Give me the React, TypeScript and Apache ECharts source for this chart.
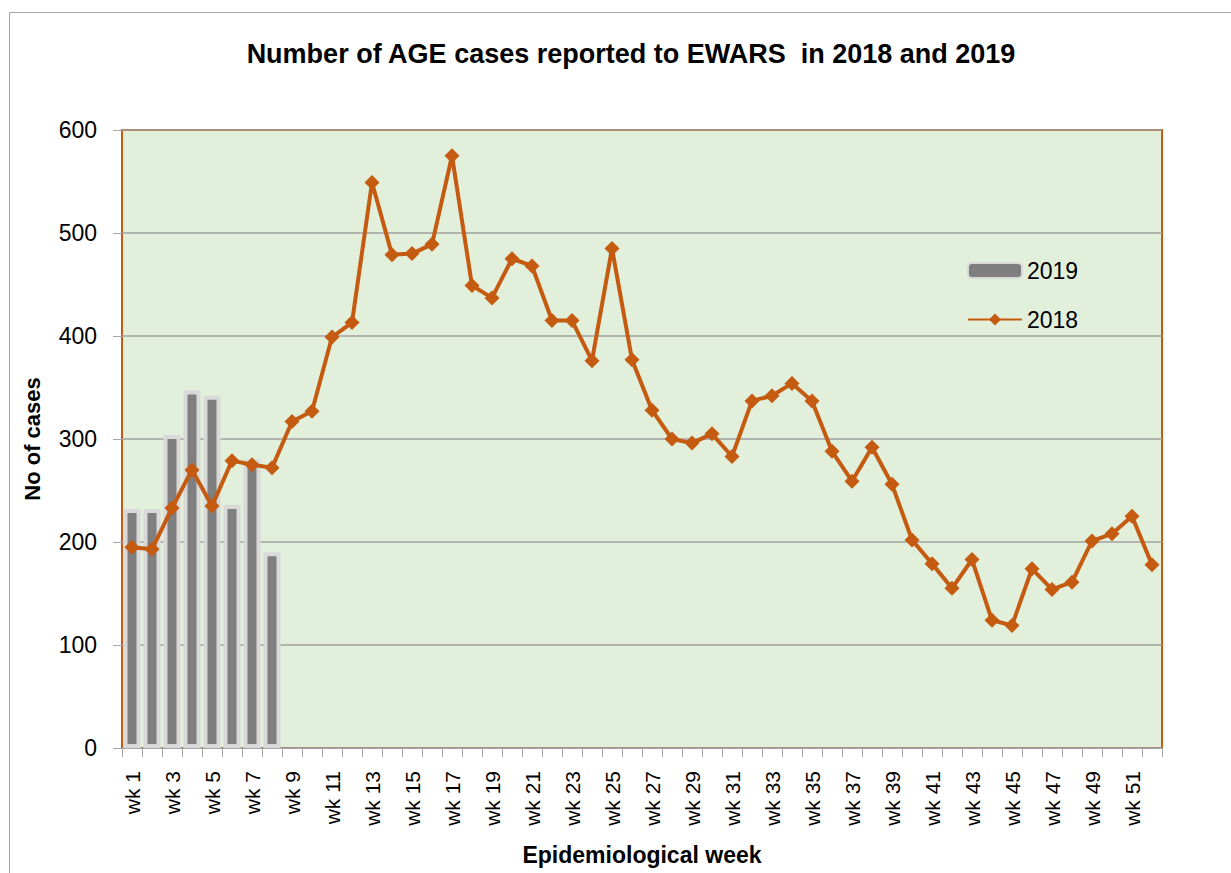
import React, { useEffect, useRef } from "react";
import * as echarts from "echarts";

const weeks: string[] = Array.from({ length: 52 }, (_, i) => `wk ${i + 1}`);

const cases2019: (number | null)[] = [
  232, 232, 304, 347, 342, 236, 280, 190,
  null, null, null, null, null, null, null, null, null, null, null, null,
  null, null, null, null, null, null, null, null, null, null, null, null,
  null, null, null, null, null, null, null, null, null, null, null, null,
  null, null, null, null, null, null, null, null,
];

const cases2018: number[] = [
  195, 193, 233, 270, 235, 279, 275, 272, 317, 327,
  399, 413, 549, 479, 480, 489, 575, 449, 437, 475,
  468, 415, 415, 376, 485, 377, 328, 300, 296, 305,
  283, 337, 342, 354, 337, 288, 259, 292, 256, 202,
  179, 155, 183, 124, 119, 174, 154, 161, 201, 208,
  225, 178,
];

const yTicks = { min: 0, max: 600, interval: 100 };

const FONT = "'Liberation Sans', Arial, sans-serif";

export default function App() {
  const ref = useRef<HTMLDivElement>(null);

  useEffect(() => {
    if (!ref.current) return;
    const chart = echarts.init(ref.current, undefined, { renderer: "svg" });
    chart.setOption({
      animation: false,
      backgroundColor: "#ffffff",
      textStyle: { fontFamily: FONT },
      title: {
        text: "Number of AGE cases reported to EWARS  in 2018 and 2019",
        left: 626,
        textAlign: "center",
        top: 35,
        textStyle: { fontFamily: FONT, fontWeight: "bold", fontSize: 27, color: "#000" },
      },
      graphic: [
        {
          type: "rect",
          silent: true,
          shape: { x: 9.5, y: 12.5, width: 1300, height: 1000 },
          style: { fill: "none", stroke: "#a6a6a6", lineWidth: 1 },
          z: -1,
        },
      ],
      legend: {
        orient: "vertical",
        left: 962,
        top: 252,
        itemWidth: 54,
        itemHeight: 15,
        itemGap: 22,
        data: ["2019", "2018"],
        textStyle: { fontFamily: FONT, fontSize: 23, color: "#000", lineHeight: 27 },
      },
      grid: {
        left: 122,
        top: 130,
        right: 69,
        bottom: 125,
        show: true,
        backgroundColor: "#e2efda",
        borderColor: "#c55a11",
        borderWidth: 2,
      },
      xAxis: {
        type: "category",
        data: weeks,
        boundaryGap: true,
        name: "Epidemiological week",
        nameLocation: "middle",
        nameGap: 95,
        nameTextStyle: { fontFamily: FONT, fontWeight: "bold", fontSize: 23, color: "#000" },
        axisLine: { show: true, lineStyle: { color: "#a6a6a6", width: 1 } },
        axisTick: { show: true, interval: 0, length: 9, lineStyle: { color: "#a6a6a6" } },
        axisLabel: {
          interval: 1,
          rotate: 90,
          margin: 23,
          fontSize: 21,
          fontFamily: FONT,
          color: "#000",
        },
        splitLine: { show: false },
      },
      yAxis: {
        type: "value",
        min: yTicks.min,
        max: yTicks.max,
        interval: yTicks.interval,
        name: "No of cases",
        nameLocation: "middle",
        nameGap: 79,
        nameTextStyle: { fontFamily: FONT, fontWeight: "bold", fontSize: 22, color: "#000" },
        axisLine: { show: false },
        axisTick: { show: true, length: 9, lineStyle: { color: "#a6a6a6" } },
        axisLabel: { margin: 25, fontSize: 23, fontFamily: FONT, color: "#000" },
        splitLine: { show: true, lineStyle: { color: "#a0a0a0", width: 1.5 } },
      },
      series: [
        {
          name: "2019",
          type: "bar",
          data: cases2019,
          barWidth: 17,
          itemStyle: { color: "#7f7f7f", borderColor: "#d9d9d9", borderWidth: 4 },
        },
        {
          name: "2018",
          type: "line",
          data: cases2018,
          symbol: "diamond",
          symbolSize: 15,
          showAllSymbol: true,
          lineStyle: { color: "#c55a11", width: 4 },
          itemStyle: { color: "#c55a11" },
          z: 3,
        },
      ],
    });
    return () => chart.dispose();
  }, []);

  return (
    <div
      ref={ref}
      style={{ position: "fixed", left: 0, top: 0, width: 1231, height: 873 }}
    />
  );
}
